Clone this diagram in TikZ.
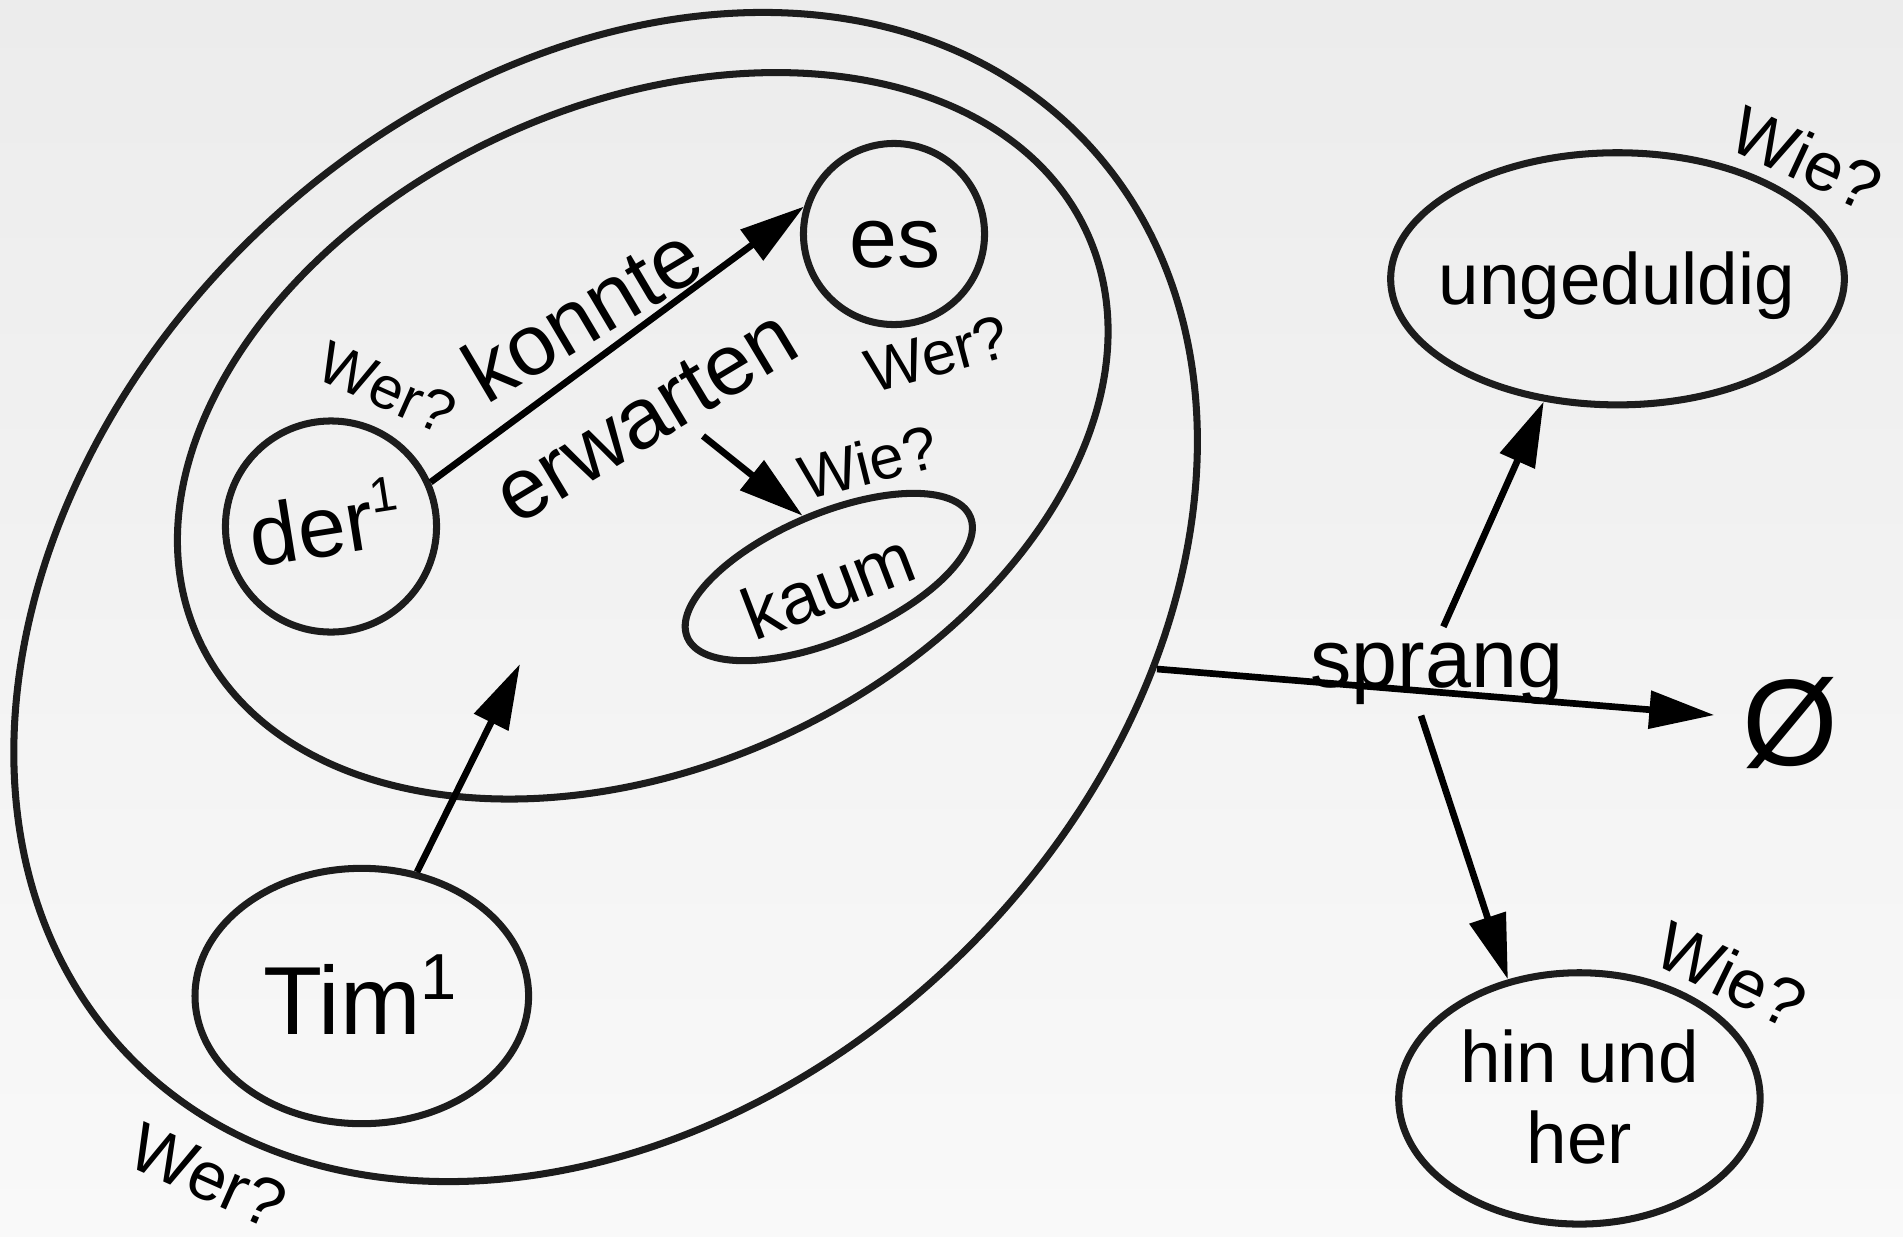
\documentclass[tikz,border=0pt]{standalone}
\usepackage{fontspec}
\setmainfont{Liberation Sans}
\usetikzlibrary{shapes.geometric,arrows.meta}
\definecolor{ink}{HTML}{1C1C1C}
\definecolor{bgtop}{HTML}{ECECEC}
\definecolor{bgbot}{HTML}{F9F9F9}
\newcommand\mysup[2]{\raisebox{#2}{\fontsize{#1}{#1}\selectfont 1}}
\begin{document}
\begin{tikzpicture}[x=0.01cm,y=-0.01cm,
  shapeE/.style={draw=ink, line width=2pt, ellipse, inner sep=0pt},
  arr/.style={line width=1.9pt, draw=black, -{Triangle[length=18.5pt,width=10.5pt]}},
  big/.style={font=\fontsize{24.5}{28}\selectfont, inner sep=0pt},
  mid/.style={font=\fontsize{20.7}{23}\selectfont, inner sep=0pt},
  qlab/.style={inner sep=0pt}]
\useasboundingbox (0,0) rectangle (1903,1236);
\shade[top color=bgtop, bottom color=bgbot] (0,0) rectangle (1903,1236);

% containers
\node[shapeE, minimum width=13.226cm, minimum height=10.076cm, rotate=43.68] (outer) at (605.6,597) {};
\node[shapeE, minimum width=9.764cm, minimum height=6.622cm, rotate=24.51] (inner) at (642.75,435.8) {};
% word shapes
\node[shapeE, minimum width=2.11cm, minimum height=2.11cm] (der) at (331,526.5) {};
\node[shapeE, minimum width=1.81cm, minimum height=1.81cm] (es) at (894,234) {};
\node[shapeE, minimum width=3.074cm, minimum height=1.26cm, rotate=23.1] (kaum) at (828.8,577) {};
\node[shapeE, minimum width=3.334cm, minimum height=2.552cm] (tim) at (361.8,996) {};
\node[shapeE, minimum width=4.534cm, minimum height=2.52cm] (ung) at (1617.5,278.8) {};
\node[shapeE, minimum width=3.612cm, minimum height=2.512cm] (hin) at (1579.4,1098.4) {};

% texts
\node[big, anchor=base, rotate=9] (dertext) at (330,556) {der\mysup{14}{10pt}};
\node[big, anchor=base] (estext) at (894.6,267.7) {es};
\node[big, rotate=30.7] (konnte) at (582,313) {konnte};
\node[big, rotate=31] (erwarten) at (646,417) {erwarten};
\node[mid, rotate=21] (kaumtext) at (828,585) {kaum};
\node[mid, anchor=base] (ungtext) at (1617,304) {ungeduldig};
\node[mid, align=center] (hintext) at (1579.4,1097) {hin und\\her};
\node[font=\fontsize{27.5}{30}\selectfont, inner sep=0pt, anchor=base] (timtext) at (360,1034) {Tim\mysup{18.5}{9.8pt}};
\node[font=\fontsize{23.5}{28}\selectfont, inner sep=0pt, anchor=base] (sprang) at (1437,687) {sprang};
\node[font=\fontsize{35}{40}\selectfont, inner sep=7.7pt] (phi) at (1790,723) {Ø};

% question labels
\node[qlab, font=\fontsize{17}{19}\selectfont, rotate=-24] (q1) at (387,388) {Wer?};
\node[qlab, font=\fontsize{17.5}{19}\selectfont, rotate=15] (q2) at (937,354) {Wer?};
\node[qlab, font=\fontsize{17.5}{19}\selectfont, rotate=14] (q3) at (868,462) {Wie?};
\node[qlab, font=\fontsize{19.5}{21}\selectfont, rotate=-25] (q4) at (1807,158) {Wie?};
\node[qlab, font=\fontsize{19.5}{21}\selectfont, rotate=-26] (q5) at (1731,975) {Wie?};
\node[qlab, font=\fontsize{19.5}{21}\selectfont, rotate=-24] (q6) at (208,1176) {Wer?};

% connectors
\coordinate (e1) at (703,436);
\coordinate (t1) at (520,664);
\coordinate (o1) at (1157,669);
\coordinate (s1) at (1443.4,626.7);
\coordinate (s2) at (1421,715.6);
\draw[arr] (der.24.6) -- (es.163.6);
\draw[arr] (e1) -- (kaum.north);
\draw[arr] (tim.66.5) -- (t1);
\draw[arr] (o1) -- (phi.174.4);
\draw[arr] (s1) -- (ung.239.2);
\draw[arr] (s2) -- (hin.121.4);
\end{tikzpicture}
\end{document}
